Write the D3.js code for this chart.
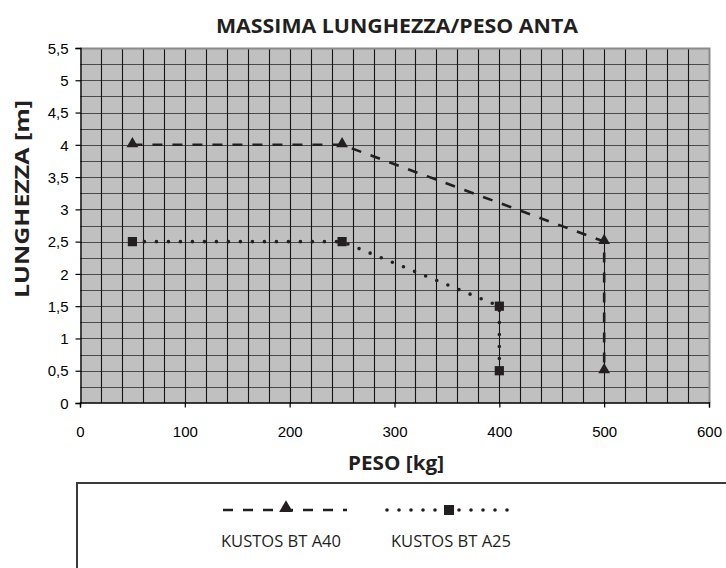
<!DOCTYPE html>
<html>
<head>
<meta charset="utf-8">
<script src="https://cdn.jsdelivr.net/npm/d3@7/dist/d3.min.js"></script>
<style>
  html, body { margin: 0; padding: 0; background: #fff; }
  svg { display: block; }
</style>
</head>
<body>
<svg id="chart" width="726" height="568"></svg>
<script>
// Maximum leaf length versus leaf weight
const seriesNames = ["KUSTOS BT A40", "KUSTOS BT A25"];
const a40Peso = [50, 250, 500, 500];
const a40Lunghezza = [4, 4, 2.5, 0.5];
const a25Peso = [50, 250, 400, 400];
const a25Lunghezza = [2.5, 2.5, 1.5, 0.5];
const xTicks = [0, 100, 200, 300, 400, 500, 600];
const yTicks = [0, 0.5, 1, 1.5, 2, 2.5, 3, 3.5, 4, 4.5, 5, 5.5];

const svg = d3.select("#chart");
const plotL = 80, plotR = 709, plotT = 48, plotB = 403;

const x = d3.scaleLinear().domain([0, 600]).range([plotL, plotR]);
const y = d3.scaleLinear().domain([0, 5.5]).range([plotB, plotT]);
const fmt = v => String(v).replace(".", ",");

// title
svg.append("text")
  .attr("x", 397).attr("y", 33)
  .attr("text-anchor", "middle")
  .attr("font-family", "'Open Sans', sans-serif")
  .attr("font-weight", "bold")
  .attr("font-size", 19.5)
  .attr("textLength", 362).attr("lengthAdjust", "spacingAndGlyphs")
  .attr("fill", "#231f20")
  .text("MASSIMA LUNGHEZZA/PESO ANTA");

// plot background
svg.append("rect")
  .attr("x", plotL).attr("y", plotT)
  .attr("width", plotR - plotL).attr("height", plotB - plotT)
  .attr("fill", "#c0c0c0");

// grid: horizontal every 0.25 m, vertical every 20 kg
const hGrid = d3.range(0.25, 5.5, 0.25);
svg.append("g").selectAll("line").data(hGrid).join("line")
  .attr("x1", plotL).attr("x2", plotR)
  .attr("y1", d => Math.round(y(d)) + 0.5).attr("y2", d => Math.round(y(d)) + 0.5)
  .attr("stroke", "#4a4a4a").attr("stroke-width", 1.2);
const vGrid = d3.range(20, 600, 20);
svg.append("g").selectAll("line").data(vGrid).join("line")
  .attr("y1", plotT).attr("y2", plotB)
  .attr("x1", d => Math.round(x(d)) + 0.5).attr("x2", d => Math.round(x(d)) + 0.5)
  .attr("stroke", "#141414").attr("stroke-width", 1.1);

// frame top/right
svg.append("path")
  .attr("d", `M${plotL},${plotT + 0.5}H${plotR + 0.5}V${plotB}`)
  .attr("fill", "none").attr("stroke", "#8a8a8a").attr("stroke-width", 2);

// axes
const yAxis = svg.append("g")
  .attr("transform", `translate(${plotL + 0.5},0)`)
  .call(d3.axisLeft(y).tickValues(yTicks).tickSize(5).tickPadding(7).tickFormat(fmt));
const xAxis = svg.append("g")
  .attr("transform", `translate(0,${plotB - 0.5})`)
  .call(d3.axisBottom(x).tickValues(xTicks).tickSize(5).tickPadding(19).tickFormat(d => d));
[yAxis, xAxis].forEach(g => {
  g.select(".domain").attr("stroke", "#000").attr("stroke-width", 1.3);
  g.selectAll(".tick line").attr("stroke", "#000").attr("stroke-width", 1.2);
  g.selectAll(".tick text")
    .attr("font-family", "'Liberation Sans', Arial, sans-serif")
    .attr("font-size", 15).attr("fill", "#000");
});
yAxis.selectAll(".tick text").attr("dy", "0.35em");

// axis titles
svg.append("text")
  .attr("x", 396).attr("y", 470)
  .attr("text-anchor", "middle")
  .attr("font-family", "'Open Sans', sans-serif")
  .attr("font-weight", "bold").attr("font-size", 19)
  .attr("textLength", 96).attr("lengthAdjust", "spacingAndGlyphs")
  .attr("fill", "#231f20")
  .text("PESO [kg]");
svg.append("text")
  .attr("transform", "translate(29,199) rotate(-90)")
  .attr("text-anchor", "middle")
  .attr("font-family", "'Open Sans', sans-serif")
  .attr("font-weight", "bold").attr("font-size", 19)
  .attr("textLength", 198).attr("lengthAdjust", "spacingAndGlyphs")
  .attr("fill", "#231f20")
  .text("LUNGHEZZA [m]");

// series
const series = [
  { name: seriesNames[0], px: a40Peso, py: a40Lunghezza, dash: "10 10", width: 2.6, cap: "butt", marker: "triangle" },
  { name: seriesNames[1], px: a25Peso, py: a25Lunghezza, dash: "0 12", width: 3.6, cap: "round", marker: "square" }
];
const line = d3.line().x(d => x(d[0])).y(d => y(d[1]));
const tri = d3.symbol().type(d3.symbolTriangle).size(60);
const sq = d3.symbol().type(d3.symbolSquare).size(85);

series.forEach(s => {
  const pts = s.px.map((v, i) => [v, s.py[i]]);
  svg.append("path")
    .attr("d", line(pts))
    .attr("fill", "none").attr("stroke", "#231f20")
    .attr("stroke-width", s.width)
    .attr("stroke-dasharray", s.dash)
    .attr("stroke-linecap", s.cap);
  svg.append("g").selectAll("path").data(pts).join("path")
    .attr("transform", d => `translate(${x(d[0])},${y(d[1]) + (s.marker === "triangle" ? -1 : 0)})`)
    .attr("d", s.marker === "triangle" ? tri : sq)
    .attr("fill", "#231f20");
});

// legend box
svg.append("rect")
  .attr("x", 77).attr("y", 483)
  .attr("width", 700).attr("height", 120)
  .attr("fill", "#fff").attr("stroke", "#3a3a3a").attr("stroke-width", 2);

const legend = [
  { s: series[0], x0: 223, x1: 347, cx: 286, tx: 281 },
  { s: series[1], x0: 387, x1: 516, cx: 449, tx: 451 }
];
legend.forEach(l => {
  svg.append("path")
    .attr("d", `M${l.x0},510H${l.x1}`)
    .attr("fill", "none").attr("stroke", "#231f20")
    .attr("stroke-width", l.s.width)
    .attr("stroke-dasharray", l.s.dash)
    .attr("stroke-linecap", l.s.cap);
  svg.append("path")
    .attr("transform", `translate(${l.cx},${l.s.marker === "triangle" ? 508 : 510})`)
    .attr("d", l.s.marker === "triangle" ? d3.symbol().type(d3.symbolTriangle).size(80)() : d3.symbol().type(d3.symbolSquare).size(100)())
    .attr("fill", "#231f20");
  svg.append("text")
    .attr("x", l.tx).attr("y", 547)
    .attr("text-anchor", "middle")
    .attr("font-family", "'Open Sans', sans-serif")
    .attr("font-size", 16)
    .attr("textLength", 120).attr("lengthAdjust", "spacingAndGlyphs")
    .attr("fill", "#231f20")
    .text(l.s.name);
});
</script>
</body>
</html>
